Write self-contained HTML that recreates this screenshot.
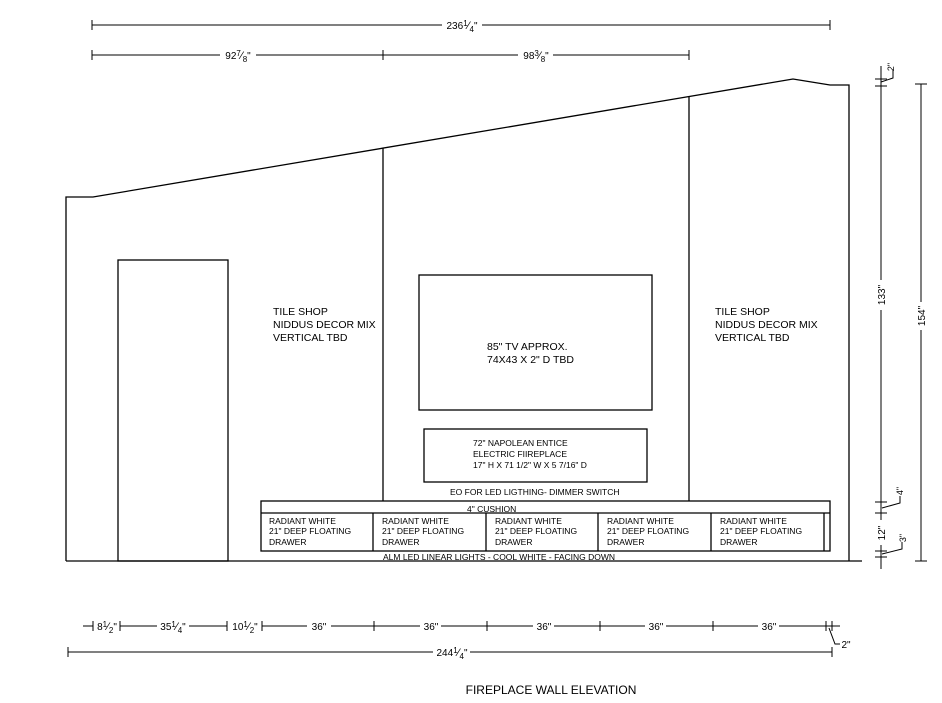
<!DOCTYPE html>
<html><head><meta charset="utf-8"><style>
html,body{margin:0;padding:0;background:#fff;width:942px;height:703px;overflow:hidden}
svg{display:block}
text{font-family:"Liberation Sans",sans-serif;fill:#000}
</style></head><body>
<svg width="942" height="703" viewBox="0 0 942 703" xmlns="http://www.w3.org/2000/svg">
<g stroke="#000" fill="none" stroke-width="1.3">
<!-- outline -->
<polyline points="66,561 66,197 93,197 793,79 830,85 849,85 849,561"/>
<line x1="66" y1="561" x2="862" y2="561"/>
<line x1="383" y1="148" x2="383" y2="501"/>
<line x1="689" y1="97" x2="689" y2="501"/>
<rect x="118" y="260" width="110" height="301"/>
<rect x="419" y="275" width="233" height="135"/>
<rect x="424" y="429" width="223" height="53"/>
<rect x="261" y="501" width="569" height="50"/>
<line x1="261" y1="513" x2="830" y2="513"/>
<line x1="373" y1="513" x2="373" y2="551"/>
<line x1="486" y1="513" x2="486" y2="551"/>
<line x1="598" y1="513" x2="598" y2="551"/>
<line x1="711" y1="513" x2="711" y2="551"/>
<line x1="824" y1="513" x2="824" y2="551"/>
</g>
<g stroke="#000" fill="none" stroke-width="1">
<!-- top dims -->
<line x1="92" y1="25" x2="442" y2="25"/><line x1="482" y1="25" x2="830" y2="25"/>
<line x1="92" y1="20" x2="92" y2="30"/><line x1="830" y1="20" x2="830" y2="30"/>
<line x1="92" y1="55" x2="220" y2="55"/><line x1="256" y1="55" x2="383" y2="55"/>
<line x1="383" y1="55" x2="518" y2="55"/><line x1="553" y1="55" x2="689" y2="55"/>
<line x1="92" y1="50" x2="92" y2="60"/><line x1="383" y1="50" x2="383" y2="60"/><line x1="689" y1="50" x2="689" y2="60"/>
<!-- right dims -->
<line x1="881" y1="66" x2="881" y2="92"/><line x1="875" y1="79" x2="887" y2="79"/><line x1="875" y1="86" x2="887" y2="86"/>
<path d="M881,82 L893,78 L893,70"/>
<line x1="881" y1="86" x2="881" y2="280"/><line x1="881" y1="310" x2="881" y2="520"/>
<line x1="881" y1="545" x2="881" y2="569"/>
<line x1="875" y1="502" x2="887" y2="502"/><line x1="875" y1="513" x2="887" y2="513"/>
<line x1="875" y1="551" x2="887" y2="551"/><line x1="875" y1="557" x2="887" y2="557"/>
<path d="M882,508 L900,503 L900,496"/>
<path d="M882,554 L902,549 L902,542"/>
<line x1="921" y1="84" x2="921" y2="302"/><line x1="921" y1="330" x2="921" y2="561"/>
<line x1="915" y1="84" x2="927" y2="84"/><line x1="915" y1="561" x2="927" y2="561"/>
<!-- bottom dims -->
<line x1="83" y1="626" x2="93" y2="626"/>
<line x1="93" y1="621" x2="93" y2="631"/><line x1="120" y1="621" x2="120" y2="631"/>
<line x1="120" y1="626" x2="157" y2="626"/><line x1="189" y1="626" x2="227" y2="626"/>
<line x1="227" y1="621" x2="227" y2="631"/>
<line x1="262" y1="621" x2="262" y2="631"/>
<line x1="262" y1="626" x2="307" y2="626"/><line x1="331" y1="626" x2="420" y2="626"/>
<line x1="441" y1="626" x2="533" y2="626"/><line x1="554" y1="626" x2="645" y2="626"/>
<line x1="666" y1="626" x2="758" y2="626"/><line x1="779" y1="626" x2="840" y2="626"/>
<line x1="374" y1="621" x2="374" y2="631"/><line x1="487" y1="621" x2="487" y2="631"/>
<line x1="600" y1="621" x2="600" y2="631"/><line x1="713" y1="621" x2="713" y2="631"/>
<line x1="826" y1="621" x2="826" y2="631"/><line x1="832" y1="621" x2="832" y2="631"/>
<path d="M829,628 L835,644 L840,644"/>
<line x1="68" y1="652" x2="433" y2="652"/><line x1="470" y1="652" x2="832" y2="652"/>
<line x1="68" y1="647" x2="68" y2="657"/><line x1="832" y1="647" x2="832" y2="657"/>
</g>
<g font-size="10">
<text x="462" y="29" text-anchor="middle">236<tspan font-size="8" dy="-3">1</tspan><tspan font-size="11" dy="3">⁄</tspan><tspan font-size="8" dy="3">4</tspan><tspan dy="-3">"</tspan></text>
<text x="238" y="59" text-anchor="middle">92<tspan font-size="8" dy="-3">7</tspan><tspan font-size="11" dy="3">⁄</tspan><tspan font-size="8" dy="3">8</tspan><tspan dy="-3">"</tspan></text>
<text x="536" y="59" text-anchor="middle">98<tspan font-size="8" dy="-3">3</tspan><tspan font-size="11" dy="3">⁄</tspan><tspan font-size="8" dy="3">8</tspan><tspan dy="-3">"</tspan></text>
<text x="107" y="630" text-anchor="middle">8<tspan font-size="8" dy="-3">1</tspan><tspan font-size="11" dy="3">⁄</tspan><tspan font-size="8" dy="3">2</tspan><tspan dy="-3">"</tspan></text>
<text x="173" y="630" text-anchor="middle">35<tspan font-size="8" dy="-3">1</tspan><tspan font-size="11" dy="3">⁄</tspan><tspan font-size="8" dy="3">4</tspan><tspan dy="-3">"</tspan></text>
<text x="245" y="630" text-anchor="middle">10<tspan font-size="8" dy="-3">1</tspan><tspan font-size="11" dy="3">⁄</tspan><tspan font-size="8" dy="3">2</tspan><tspan dy="-3">"</tspan></text>
<text x="319" y="630" text-anchor="middle">36"</text>
<text x="431" y="630" text-anchor="middle">36"</text>
<text x="544" y="630" text-anchor="middle">36"</text>
<text x="656" y="630" text-anchor="middle">36"</text>
<text x="769" y="630" text-anchor="middle">36"</text>
<text x="846" y="648" text-anchor="middle">2"</text>
<text x="452" y="656" text-anchor="middle">244<tspan font-size="8" dy="-3">1</tspan><tspan font-size="11" dy="3">⁄</tspan><tspan font-size="8" dy="3">4</tspan><tspan dy="-3">"</tspan></text>
<text transform="translate(885,295) rotate(-90)" text-anchor="middle">133"</text>
<text transform="translate(925,316) rotate(-90)" text-anchor="middle">154"</text>
<text transform="translate(885,533) rotate(-90)" text-anchor="middle">12"</text>
<text transform="translate(894,67) rotate(-90)" text-anchor="middle" font-size="9">2"</text>
<text transform="translate(903,491) rotate(-90)" text-anchor="middle" font-size="9">4"</text>
<text transform="translate(906,538) rotate(-90)" text-anchor="middle" font-size="9">3"</text>
</g>
<g font-size="10.5">
<text x="273" y="315">TILE SHOP</text><text x="273" y="328">NIDDUS DECOR MIX</text><text x="273" y="341">VERTICAL TBD</text>
<text x="715" y="315">TILE SHOP</text><text x="715" y="328">NIDDUS DECOR MIX</text><text x="715" y="341">VERTICAL TBD</text>
<text x="487" y="350">85" TV APPROX.</text><text x="487" y="363">74X43 X 2" D TBD</text>
</g>
<g font-size="8.5">
<text x="473" y="446">72" NAPOLEAN ENTICE</text>
<text x="473" y="457">ELECTRIC FIIREPLACE</text>
<text x="473" y="468">17" H X 71 1/2" W X 5  7/16" D</text>
<text x="450" y="495">EO FOR LED LIGTHING- DIMMER SWITCH</text>
<text x="467" y="512">4" CUSHION</text>
<text x="383" y="560">ALM LED LINEAR LIGHTS - COOL WHITE - FACING DOWN</text>
</g>
<g font-size="8.5">
<text x="269" y="524">RADIANT WHITE</text><text x="269" y="534">21" DEEP FLOATING</text><text x="269" y="545">DRAWER</text>
<text x="382" y="524">RADIANT WHITE</text><text x="382" y="534">21" DEEP FLOATING</text><text x="382" y="545">DRAWER</text>
<text x="495" y="524">RADIANT WHITE</text><text x="495" y="534">21" DEEP FLOATING</text><text x="495" y="545">DRAWER</text>
<text x="607" y="524">RADIANT WHITE</text><text x="607" y="534">21" DEEP FLOATING</text><text x="607" y="545">DRAWER</text>
<text x="720" y="524">RADIANT WHITE</text><text x="720" y="534">21" DEEP FLOATING</text><text x="720" y="545">DRAWER</text>
</g>
<text x="551" y="694" text-anchor="middle" font-size="12">FIREPLACE WALL ELEVATION</text>
</svg>
</body></html>
